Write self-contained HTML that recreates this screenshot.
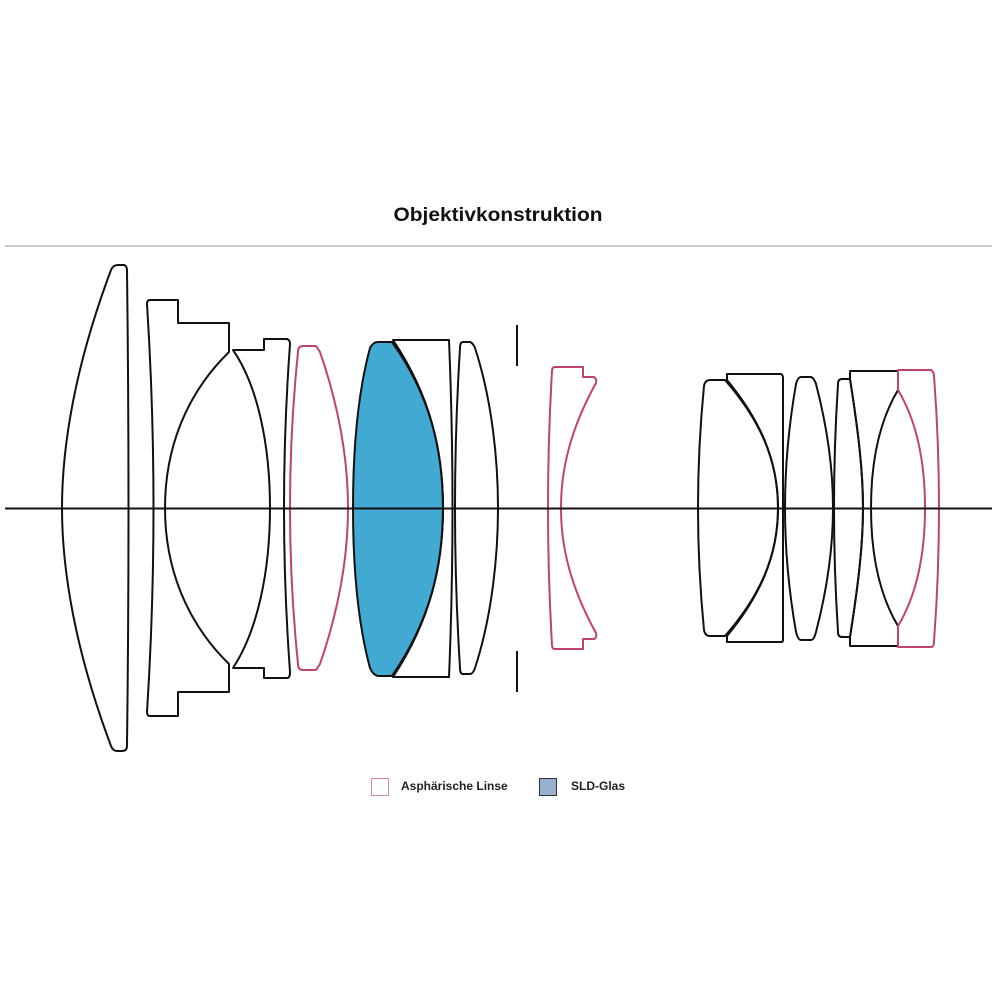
<!DOCTYPE html>
<html><head><meta charset="utf-8"><style>
html,body{margin:0;padding:0;background:#fff;}
svg{display:block;}
</style></head><body>
<svg width="1000" height="1000" viewBox="0 0 1000 1000" xmlns="http://www.w3.org/2000/svg">
<rect width="1000" height="1000" fill="#fff"/>
<text x="498" y="221" text-anchor="middle" font-family="Liberation Sans, sans-serif" font-weight="bold" font-size="19" textLength="209" lengthAdjust="spacingAndGlyphs" fill="#111">Objektivkonstruktion</text>
<line x1="5" y1="246" x2="992" y2="246" stroke="#aaa" stroke-width="1.2"/>

<g fill="none" stroke="#111" stroke-width="2" stroke-linejoin="round">
<!-- lens 1 -->
<path d="M118,265 L124,265 Q127,266 127,270 Q130,508 127,746 Q127,751 122,751 L117,751 Q113,751 111,746 C75,650 62,570 62,508 C62,446 75,366 111,270 Q113,265 118,265Z"/>
<!-- lens 2 -->
<path d="M150,300 L178,300 L178,323 L229,323 L229,352 C185,395 165,450 165,508 C165,566 185,621 229,664 L229,692 L178,692 L178,716 L150,716 Q147,716 147,712 Q160,508 147,304 Q147,300 150,300Z"/>
<!-- lens 3 -->
<path d="M233,350 L264,350 L264,339 L287,339 Q290,340 290,344 Q278,508 290,672 Q290,678 287,678 L264,678 L264,668 L233,668 C258,630 270,570 270,508 C270,446 258,386 233,350Z"/>
<!-- lens 5 blue -->
<path d="M378,342 L392,342 C430,395 443,450 443,508 C443,566 430,621 392,676 L378,676 Q373,675 370,668 C357,620 353,560 353,508 C353,456 357,396 370,348 Q373,342 378,342Z" fill="#42a9d3"/>
<!-- lens 6 -->
<path d="M393,340 L449,340 Q456,508 449,677 L393,677 C430,621 443,566 443,508 C443,450 430,395 393,340Z"/>
<!-- lens 7 -->
<path d="M463,342 L470,342 Q473,343 475,348 C492,400 498,460 498,508 C498,556 492,616 475,668 Q473,674 470,674 L463,674 Q460,674 460,668 Q450,508 460,348 Q460,342 463,342Z"/>
<!-- stop -->
<line x1="517" y1="325" x2="517" y2="366"/>
<line x1="517" y1="651" x2="517" y2="692"/>
<!-- lens 9 -->
<path d="M710,380 L725,380 C760,420 778,460 778,508 C778,556 760,596 725,636 L710,636 Q705,636 704,630 Q692,508 704,386 Q705,380 710,380Z"/>
<!-- lens 10 -->
<path d="M727,374 L781,374 Q783,375 783,378 L783,640 Q783,642 781,642 L727,642 L727,636 C760,596 778,556 778,508 C778,460 760,420 727,380Z"/>
<!-- lens 11 -->
<path d="M801,377 L811,377 Q814,378 816,384 C828,430 833,470 833,508 C833,546 828,586 816,632 Q814,640 811,640 L801,640 Q798,640 796,632 C788,586 785,546 785,508 C785,470 788,430 796,384 Q798,377 801,377Z"/>
<!-- lens 12 -->
<path d="M842,379 L850,379 C858,430 863,470 863,508 C863,546 858,586 850,637 L842,637 Q838,637 838,632 Q830,508 838,384 Q838,379 842,379Z"/>
<!-- lens 13 -->
<path d="M850,371 L898,371 L898,390 C880,420 871,460 871,508 C871,556 880,596 898,626 L898,646 L850,646 L850,637 C858,586 863,546 863,508 C863,470 858,430 850,379Z"/>
</g>

<g fill="none" stroke="#c0436f" stroke-width="2" stroke-linejoin="round">
<!-- lens 4 -->
<path d="M303,346 L316,346 L320,352 C340,410 348,460 348,508 C348,556 340,606 320,664 L316,670 L303,670 Q298,670 298,664 Q282,508 298,352 Q298,346 303,346Z"/>
<!-- lens 8 -->
<path d="M555,367 L583,367 L583,377 L594,377 Q597,379 596,383 C570,430 561,470 561,508 C561,546 570,586 596,633 Q597,638 594,639 L583,639 L583,649 L555,649 Q552,649 552,645 Q544,508 552,371 Q552,367 555,367Z"/>
<!-- lens 14 -->
<path d="M898,370 L931,370 Q934,372 934,376 Q944,508 934,641 Q934,647 931,647 L898,647 L898,626 C916,596 925,556 925,508 C925,460 916,420 898,390Z"/>
</g>

<line x1="5" y1="508.5" x2="992" y2="508.5" stroke="#111" stroke-width="2"/>

<rect x="371.5" y="778.5" width="17" height="17" fill="#fff" stroke="#d48a9c" stroke-width="1"/>
<text x="401" y="790" font-family="Liberation Sans, sans-serif" font-weight="bold" font-size="12" fill="#222">Asphärische Linse</text>
<rect x="539.5" y="778.5" width="17" height="17" fill="#9ab0cf" stroke="#333" stroke-width="1"/>
<text x="571" y="790" font-family="Liberation Sans, sans-serif" font-weight="bold" font-size="12" fill="#222">SLD-Glas</text>
</svg>
</body></html>
